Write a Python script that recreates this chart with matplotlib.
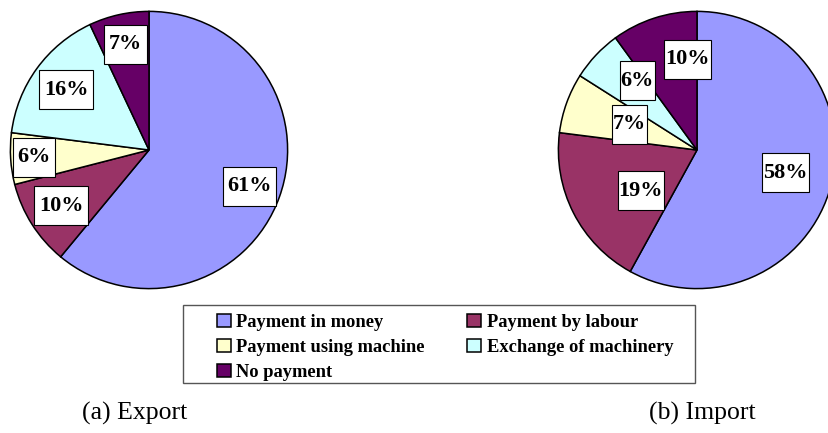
import numpy as np
import matplotlib
matplotlib.use("Agg")
import matplotlib.pyplot as plt
from matplotlib.patches import Rectangle
from matplotlib.transforms import IdentityTransform

# --- データ ---
categories = ["Payment in money", "Payment by labour", "Payment using machine",
              "Exchange of machinery", "No payment"]
export_values = [61, 10, 6, 16, 7]
import_values = [58, 19, 7, 6, 10]
colors = ["#9999FF", "#993366", "#FFFFCC", "#CCFFFF", "#660066"]

# ラベル位置 (半径比, 角度の微調整)
export_label_dist = [0.77, 0.75, 0.83, 0.74, 0.78]
export_label_nudge = [0, 0, 0, 0, 0]
import_label_dist = [0.66, 0.50, 0.52, 0.66, 0.66]
import_label_nudge = [0, 9, -1, -6, -12]

W, H = 829, 433
fig = plt.figure(figsize=(W / 100, H / 100), dpi=100)
serif = "Liberation Serif"
label_texts = []  # (ax, text, 横方向の余白px)


def px_axes(cx, cy, r):
    # ピクセル座標(上基準)から axes を作成
    return fig.add_axes([(cx - r) / W, (H - cy - r) / H, 2 * r / W, 2 * r / H])


def draw_pie(ax, values, dists, nudges, padx):
    wedges, _ = ax.pie(values, colors=colors, startangle=90, counterclock=False,
                       radius=1.0, wedgeprops=dict(edgecolor="black", linewidth=1.1))
    for w, v, d, n in zip(wedges, values, dists, nudges):
        mid = np.deg2rad((w.theta1 + w.theta2) / 2 + n)
        t = ax.text(d * np.cos(mid), d * np.sin(mid), f"{v}%", ha="center", va="center",
                    fontsize=16, fontweight="bold", family=serif, zorder=6)
        label_texts.append((ax, t, padx))
    ax.set_xlim(-1.01, 1.01)
    ax.set_ylim(-1.01, 1.01)
    ax.set_aspect("equal")
    ax.axis("off")
    return wedges


ax1 = px_axes(149, 150, 140)
wedges = draw_pie(ax1, export_values, export_label_dist, export_label_nudge, 4.5)
ax2 = px_axes(697, 150, 140)
draw_pie(ax2, import_values, import_label_dist, import_label_nudge, 1.0)

# --- 凡例 ---
fig.patches.append(Rectangle((183 / W, (H - 383) / H), 512 / W, 78 / H,
                             transform=fig.transFigure, fill=False,
                             edgecolor="#555555", linewidth=1.0))
order = [0, 2, 4, 1, 3]  # 行優先の並びにする
fig.legend([wedges[i] for i in order], [categories[i] for i in order],
           ncol=2, loc="upper left", bbox_to_anchor=(217 / W, 1 - 314 / H),
           frameon=False, prop=dict(family=serif, weight="bold", size=13.3),
           handlelength=0.75, handleheight=0.7, handletextpad=0.3,
           columnspacing=2.3, labelspacing=0.43, borderpad=0, borderaxespad=0)

# --- キャプション ---
fig.text(135 / W, 1 - 413 / H, "(a) Export", ha="center", va="center",
         family=serif, fontsize=18.5)
fig.text(702 / W, 1 - 413 / H, "(b) Import", ha="center", va="center",
         family=serif, fontsize=18.5)

# --- ラベルの白い枠 (高さ固定) ---
fig.canvas.draw()
renderer = fig.canvas.get_renderer()
for ax, t, padx in label_texts:
    bb = t.get_window_extent(renderer)
    cx, cy = (bb.x0 + bb.x1) / 2, (bb.y0 + bb.y1) / 2
    bw, bh = bb.width + 2 * padx, 39
    ax.add_patch(Rectangle((cx - bw / 2, cy - bh / 2), bw, bh, transform=IdentityTransform(),
                           facecolor="white", edgecolor="black", linewidth=0.8,
                           zorder=5, clip_on=False))

plt.savefig("out.png", dpi=100)
plt.close()
